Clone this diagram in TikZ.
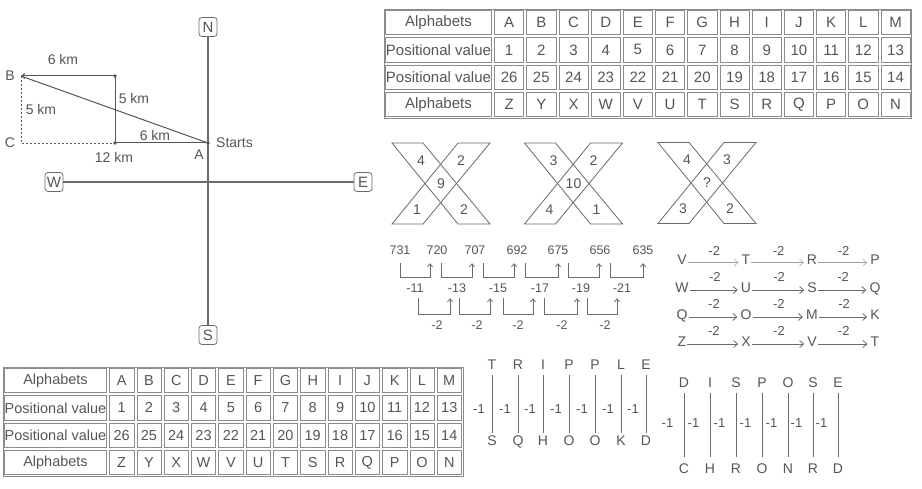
\documentclass[tikz,border=0pt]{standalone}
\usepackage{fontspec}
\setmainfont{Liberation Sans}
\usetikzlibrary{arrows.meta}
\definecolor{ink}{HTML}{555555}
\definecolor{lin}{HTML}{6A6A6A}
\definecolor{tab}{HTML}{8C8C8C}
\definecolor{pale}{HTML}{A0A0A0}
\newcommand{\fs}[1]{\fontsize{#1}{#1}\selectfont}

% table: #1 name #2 x0 #3 y0 #4 first width #5 col width #6 row height #7 font size
\newcommand{\alphatable}[7]{%
  \draw[tabline] (#2,#3) rectangle ({#2+#4+13*#5},{#3+4*#6});
  \foreach \rw/\lb/\ls in {1/Alphabets/{A,B,C,D,E,F,G,H,I,J,K,L,M},
      2/Positional value/{1,2,3,4,5,6,7,8,9,10,11,12,13},
      3/Positional value/{26,25,24,23,22,21,20,19,18,17,16,15,14},
      4/Alphabets/{Z,Y,X,W,V,U,T,S,R,Q,P,O,N}}{%
    \node[cell, font=\fs{#7}, minimum width={#4-3}, minimum height={#6-3}] (#1-\rw-0)
      at ({#2+#4/2},{#3+(\rw-0.5)*#6}) {\lb};
    \foreach \tx [count=\cl] in \ls {%
      \node[cell, font=\fs{#7}, minimum width={#5-3}, minimum height={#6-3}] (#1-\rw-\cl)
        at ({#2+#4+(\cl-0.5)*#5},{#3+(\rw-0.5)*#6}) {\tx};
    }
  }
}

% X figure: #1 prefix #2 cx #3 cy #4 TL #5 TR #6 C #7 BL #8 BR
\newcommand{\xfig}[8]{%
  \begin{scope}[shift={(#2,#3)}]
    \draw[xline] (-49,-40.5) -- (-18,-40.5) -- (49,40.5) -- (17,40.5) -- cycle;
    \draw[xline] (17,-40.5) -- (49,-40.5) -- (-18,40.5) -- (-49,40.5) -- cycle;
    \node[xnum] (#1tl) at (-20,-23) {#4};
    \node[xnum] (#1tr) at (20,-23) {#5};
    \node[xnum] (#1c) at (0,0) {#6};
    \node[xnum] (#1bl) at (-24,26) {#7};
    \node[xnum] (#1br) at (23,26) {#8};
  \end{scope}}

% bracket: #1 from node #2 dx #3 to node #4 dx #5 gap #6 depth
\newcommand{\brk}[6]{\draw[brk] ([xshift=#2pt,yshift=-#5pt]#1.south) -- ++(0,#6) -| ([xshift=#4pt,yshift=-#5pt]#3.south);}

\begin{document}
\begin{tikzpicture}[x=1pt,y=-1pt,
  every node/.style={text=ink, inner sep=0pt},
  cell/.style={draw=tab, line width=0.6pt, inner sep=0pt},
  tabline/.style={draw=tab, line width=0.8pt},
  dirbox/.style={draw=lin, line width=0.8pt, rounded corners=3pt, minimum width=18pt, minimum height=19pt, font=\fs{15}},
  axis/.style={draw=lin, line width=1.3pt},
  pline/.style={draw=ink, line width=1pt},
  dline/.style={draw=ink, line width=0.8pt, dash pattern=on 2pt off 2pt},
  lbl/.style={font=\fs{14}},
  xline/.style={draw=lin, line width=0.8pt, line join=miter},
  xnum/.style={font=\fs{14}},
  num/.style={font=\fs{12.5}, text height=9pt, text depth=0pt},
  brk/.style={draw=lin, line width=0.8pt, -{Straight Barb[length=3pt,width=5pt]}},
  let/.style={font=\fs{14}, text height=10pt, text depth=0pt, inner xsep=1pt},
  sarr/.style={draw=lin, line width=0.8pt, shorten >=2pt, -{Straight Barb[length=4pt,width=7pt]}},
  parr/.style={draw=pale, line width=0.5pt, shorten >=2pt, -{Straight Barb[length=4pt,width=7pt]}},
  sml/.style={font=\fs{13}},
  vline/.style={draw=lin, line width=0.9pt}]
\useasboundingbox (0,0) rectangle (922,489);

% ---------------- compass ----------------
\node[dirbox] (N) at (208,27) {N};
\node[dirbox] (S) at (208,335) {S};
\node[dirbox] (W) at (54,182) {W};
\node[dirbox] (E) at (363,182) {E};
\draw[axis] (N) -- (S);
\draw[axis] (W) -- (E);

\coordinate (A) at (208,143);
\coordinate (P1) at (115,143);
\coordinate (P2) at (115,76);
\coordinate (B) at (21,76);
\coordinate (C) at (21,143);
\draw[dline] (B) -- (C) -- (P1);
\draw[pline] (A) -- (P1) -- (P2);
\draw[pline, -{Straight Barb[length=3pt,width=5pt]}] (P2) -- (B);
\draw[pline] (A) -- (B);
\fill[ink] (A) circle (1.9);
\fill[ink] (P1) circle (1.9);
\fill[ink] (P2) circle (1.9);

\node[lbl] (lA) at (199,155) {A};
\node[lbl, anchor=west] (lSt) at (216,143) {Starts};
\node[lbl] (lB) at (10,76) {B};
\node[lbl] (lC) at (10,143) {C};
\node[lbl] (k1) at (63,59) {6 km};
\node[lbl] (k2) at (134,98) {5 km};
\node[lbl] (k3) at (41,109) {5 km};
\node[lbl] (k4) at (155,135) {6 km};
\node[lbl] (k5) at (114,157) {12 km};

% ---------------- tables ----------------
\alphatable{ta}{384}{9}{109}{32.2}{27.25}{15}
\alphatable{tb}{3}{367}{105}{27.3}{27.25}{14.5}

% ---------------- X figures ----------------
\xfig{xa}{441}{183.5}{4}{2}{9}{1}{2}
\xfig{xb}{573.5}{183.5}{3}{2}{10}{4}{1}
\xfig{xc}{707}{183}{4}{3}{?}{3}{2}

% ---------------- number series ----------------
\node[num] (n1) at (400,250) {731};
\node[num] (n2) at (437,250) {720};
\node[num] (n3) at (475,250) {707};
\node[num] (n4) at (517,250) {692};
\node[num] (n5) at (558,250) {675};
\node[num] (n6) at (600,250) {656};
\node[num] (n7) at (643,250) {635};
\brk{n1}{0}{n2}{-7}{8.5}{14}
\brk{n2}{4}{n3}{-3}{8.5}{14}
\brk{n3}{8}{n4}{-3}{8.5}{14}
\brk{n4}{8}{n5}{0}{8.5}{14}
\brk{n5}{10}{n6}{-1}{8.5}{14}
\brk{n6}{10}{n7}{0}{8.5}{14}

\node[num] (m1) at (415,288) {-11};
\node[num] (m2) at (457,288) {-13};
\node[num] (m3) at (498,288) {-15};
\node[num] (m4) at (540,288) {-17};
\node[num] (m5) at (581,288) {-19};
\node[num] (m6) at (622,288) {-21};
\brk{m1}{3}{m2}{-7}{5.5}{16}
\brk{m2}{2}{m3}{-8}{5.5}{16}
\brk{m3}{5}{m4}{-7}{5.5}{16}
\brk{m4}{4}{m5}{-4}{5.5}{16}
\brk{m5}{6}{m6}{-5}{5.5}{16}

\node[num] (d1) at (437,325) {-2};
\node[num] (d2) at (477,325) {-2};
\node[num] (d3) at (518,325) {-2};
\node[num] (d4) at (562,325) {-2};
\node[num] (d5) at (605,325) {-2};

% ---------------- letter series ----------------
\foreach \rw/\yy/\la/\lb/\lc/\ld in {1/260/V/T/R/P, 2/287.5/W/U/S/Q, 3/314.5/Q/O/M/K, 4/341.5/Z/X/V/T}{%
  \node[let] (s\rw a) at (682,\yy) {\la};
  \node[let] (s\rw b) at (746,\yy) {\lb};
  \node[let] (s\rw c) at (812,\yy) {\lc};
  \node[let] (s\rw d) at (875,\yy) {\ld};
}
\foreach \p/\q in {a/b, b/c, c/d}{%
  \draw[parr] ([yshift=-2.5pt]s1\p.east) -- node[sml, midway, yshift=12pt] (s1l\p) {-2} ([yshift=-2.5pt]s1\q.west);
}
\foreach \rw in {2,3,4}{%
  \foreach \p/\q in {a/b, b/c, c/d}{%
    \draw[sarr] ([yshift=-2.5pt]s\rw\p.east) -- node[sml, midway, yshift=13pt] (s\rw l\p) {-2} ([yshift=-2.5pt]s\rw\q.west);
  }
}

% ---------------- TRIPPLE ----------------
\foreach \tp/\bt/\xx [count=\i] in {T/S/492, R/Q/518, I/H/543, P/O/569, P/O/595, L/K/621, E/D/646}{%
  \node[let] (tr\i) at (\xx,365) {\tp};
  \node[let] (tb\i) at (\xx,440) {\bt};
  \draw[vline, shorten <=5pt, shorten >=2pt] (tr\i) -- (tb\i);
  \node[sml] (tm\i) at (\xx-13,409) {-1};
}

% ---------------- DISPOSE ----------------
\foreach \tp/\bt/\xx [count=\i] in {D/C/684, I/H/710, S/R/736, P/O/762, O/N/788, S/R/813, E/D/838}{%
  \node[let] (dr\i) at (\xx,383) {\tp};
  \node[let] (db\i) at (\xx,468) {\bt};
  \draw[vline, shorten <=5pt, shorten >=6pt] (dr\i) -- (db\i);
  \node[sml] (dm\i) at (\xx-16.5,423) {-1};
}
\end{tikzpicture}
\end{document}
